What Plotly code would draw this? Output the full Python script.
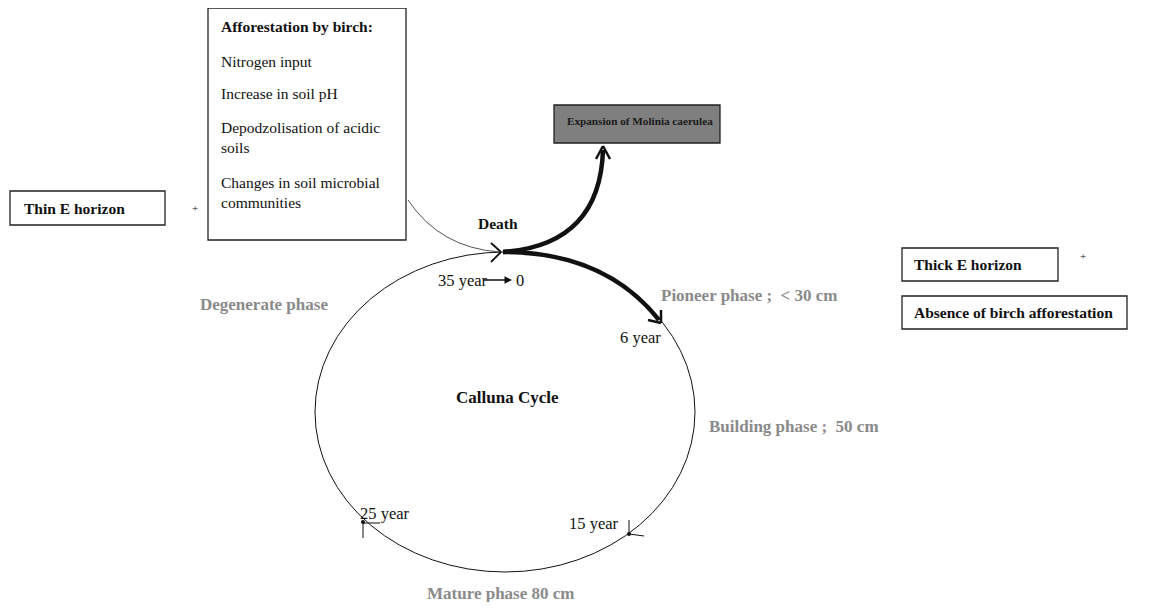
import plotly.graph_objects as go

# ---- content ----
birch_title = "Afforestation by birch:"
birch_effects = ["Nitrogen input", "Increase in soil pH", "Depodzolisation of acidic<br>soils",
                 "Changes in soil microbial<br>communities"]
left_box = "Thin E horizon"
right_boxes = ["Thick E horizon", "Absence of birch afforestation"]
outcome_box = "Expansion of Molinia caerulea"
phase_labels = ["Pioneer phase ;  < 30 cm", "Building phase ;  50 cm", "Mature phase 80 cm", "Degenerate phase"]
year_labels = ["6 year", "15 year", "25 year", "35 year"]
cycle_title = "Calluna Cycle"
event_label = "Death"

# ---- layout (page pixel coordinates; page body has an 8px margin) ----
W, H = 1157, 610
OFF = 8
SERIF = "Liberation Serif"
GREY = "#8a8a8a"

fig = go.Figure()
fig.add_trace(go.Scatter(x=[OFF, W - OFF], y=[OFF, H - OFF], mode="markers", marker=dict(opacity=0),
                         hoverinfo="skip", showlegend=False))

shapes = []
ann = []

def box(x0, y0, x1, y1, fill="white", width=1.3):
    shapes.append(dict(type="rect", x0=x0, y0=y0, x1=x1, y1=y1, xref="x", yref="y",
                       line=dict(color="#222", width=width), fillcolor=fill, layer="below"))

def text(x, y, s, size=15.5, color="#111", bold=False, anchor="left"):
    if bold:
        s = "<b>" + s + "</b>"
    ann.append(dict(x=x, y=y, xref="x", yref="y", text=s, showarrow=False, xanchor=anchor, yanchor="middle",
                    font=dict(family=SERIF, size=size, color=color), align="left"))

def line(x0, y0, x1, y1, w=1, c="#111"):
    shapes.append(dict(type="line", x0=x0, y0=y0, x1=x1, y1=y1, xref="x", yref="y", line=dict(color=c, width=w)))

def path(d, w=1, c="#111"):
    shapes.append(dict(type="path", path=d, xref="x", yref="y", line=dict(color=c, width=w)))

# boxes
box(10, 191, 165, 225)
text(22, 208, left_box, bold=True)
text(190, 208, "+", 11)

box(208, 8, 406, 240)
text(219, 26, birch_title, bold=True)
eff_y = [61, 93, 137, 192]
for s, yy in zip(birch_effects, eff_y):
    text(219, yy, s)

box(554, 105, 720, 143, fill="#7f7f7f")
text(565, 121, outcome_box, 11.2, color="#1a1a1a", bold=True)

box(902, 248, 1058, 281)
text(912, 264, right_boxes[0], bold=True)
text(1078, 256, "+", 11)
box(902, 296, 1127, 329)
text(912, 312, right_boxes[1], bold=True)

# ellipse
shapes.append(dict(type="circle", x0=315, y0=252, x1=695, y1=572, xref="x", yref="y",
                   line=dict(color="#111", width=1)))

# thin curve from birch box to death point
path("M 408 200 Q 440 248 500 252", w=1, c="#555")
line(491, 243, 501, 252, w=1.8)
line(491, 262, 501, 252, w=1.8)

# thick arrows
path("M 503 252 Q 600 245 603 150", w=4.5)
line(596, 159, 603, 146, w=2.5)
line(610, 159, 603, 146, w=2.5)
path("M 503 252 Q 605 252 659 320", w=4.5)
line(648, 320, 661, 323, w=2.5)
line(661, 310, 661, 323, w=2.5)

# text labels
text(498, 223, event_label, bold=True, anchor="center")
text(436, 280, year_labels[3], 16.5)
ann.append(dict(x=512, y=280, ax=482, ay=280, xref="x", yref="y", axref="x", ayref="y", text="",
                showarrow=True, arrowhead=2, arrowsize=1, arrowwidth=1.5, arrowcolor="#111"))
text(520, 280, "0", 16.5, anchor="center")
text(264, 304, phase_labels[3], 17, color=GREY, bold=True, anchor="center")
text(659, 295, phase_labels[0], 17, color=GREY, bold=True)
text(618, 337, year_labels[0], 16.5)
text(507, 397, cycle_title, 17, bold=True, anchor="center")
text(707, 426, phase_labels[1], 17, color=GREY, bold=True)
text(358, 513, year_labels[2], 16.5)
text(567, 523, year_labels[1], 16.5)
text(500, 593, phase_labels[2], 17, color=GREY, bold=True, anchor="center")

# 25 year marker
shapes.append(dict(type="circle", x0=361, y0=520, x1=365, y1=524, xref="x", yref="y",
                   fillcolor="#111", line=dict(color="#111", width=0)))
line(363, 522, 363, 538)
line(363, 523, 380, 523)
# 15 year marker
shapes.append(dict(type="circle", x0=627, y0=532, x1=631, y1=536, xref="x", yref="y",
                   fillcolor="#111", line=dict(color="#111", width=0)))
line(629, 520, 629, 534)
line(629, 534, 644, 536)

fig.update_layout(
    width=W - 2 * OFF, height=H - 2 * OFF, margin=dict(l=0, r=0, t=0, b=0),
    paper_bgcolor="white", plot_bgcolor="white",
    xaxis=dict(range=[OFF, W - OFF], visible=False, fixedrange=True),
    yaxis=dict(range=[H - OFF, OFF], visible=False, fixedrange=True),
    shapes=shapes, annotations=ann, showlegend=False,
)
fig.write_html("out.html")
